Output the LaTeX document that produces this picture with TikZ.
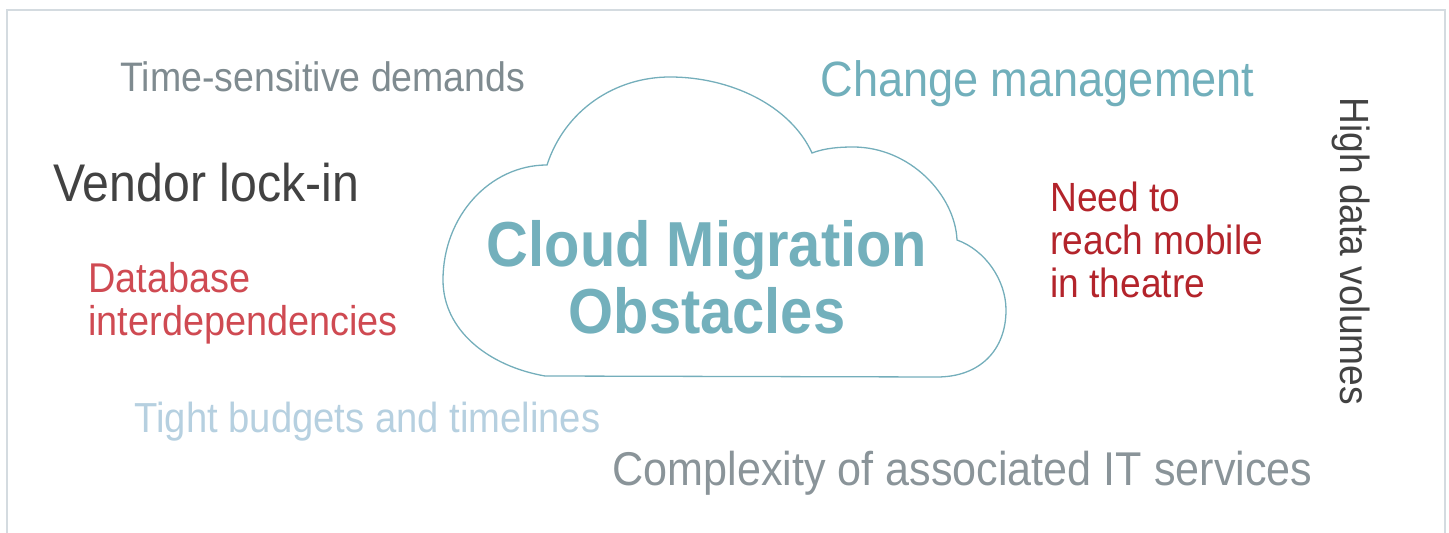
\documentclass[tikz,border=0pt]{standalone}
\usepackage{fontspec}
\setmainfont{Liberation Sans}[FakeStretch=0.91]
\usepackage{tikz}
\definecolor{frame}{HTML}{D4DBE0}
\definecolor{cloudteal}{HTML}{74AEBB}
\definecolor{titleteal}{HTML}{73B0BC}
\definecolor{softteal}{HTML}{71AFBB}
\definecolor{midgray}{HTML}{7F8B90}
\definecolor{stonegray}{HTML}{8A9499}
\definecolor{darkgray}{HTML}{424242}
\definecolor{deepred}{HTML}{B3242B}
\definecolor{rosered}{HTML}{CF4A52}
\definecolor{paleblue}{HTML}{B6D0E0}

\begin{document}
\begin{tikzpicture}[
  x=0.5pt,y=-0.5pt,
  lbl/.style={inner sep=0pt,anchor=base west},
  blk/.style={inner sep=0pt,anchor=north west,align=left},
  cloudline/.style={draw=cloudteal,line width=0.65pt}
]
\useasboundingbox (0,0) rectangle (1449,533);
\draw[draw=frame,line width=0.75pt] (7,533) |- (1445,10) -- (1445,533);
% cloud outline
\draw[cloudline] (545,376) .. controls (488,366) and (443,330) .. (443,280)
  .. controls (443,216) and (490,165) .. (547,165)
  .. controls (565,110) and (615,77) .. (670,77)
  .. controls (730,77) and (790,105) .. (812,153)
  .. controls (825,148) and (840,147) .. (853,147)
  .. controls (910,147) and (955,195) .. (957,240)
  .. controls (985,250) and (1006,280) .. (1006,310)
  .. controls (1006,350) and (980,377) .. (937,377)
  -- cycle;
\node[inner sep=0pt,anchor=north,align=center,text=titleteal,
      font=\fontsize{31.8}{33.5}\selectfont\bfseries] (title) at (707,220)
      {Cloud Migration\\Obstacles};
% obstacles around the cloud
\node[lbl,text=midgray,font=\fontsize{20.6}{24}\selectfont] (time) at (120,92) {Time-sensitive demands};
\node[lbl,text=softteal,font=\fontsize{24.8}{28}\selectfont] (change) at (820,97) {Change management};
\node[lbl,text=darkgray,font=\fontsize{26.5}{30}\selectfont] (vendor) at (53,202) {Vendor lock-in};
\node[blk,text=deepred,font=\fontsize{20.4}{21.5}\selectfont] (mobile) at (1050,182) {Need to\\reach mobile\\in theatre};
\node[blk,text=rosered,font=\fontsize{20.8}{21.5}\selectfont] (database) at (88,262) {Database\\interdependencies};
\node[lbl,text=paleblue,font=\fontsize{21}{24}\selectfont] (budgets) at (134,433) {Tight budgets and timelines};
\node[lbl,text=stonegray,font=\fontsize{23.7}{27}\selectfont] (complexity) at (612,486) {Complexity of associated IT services};
\node[lbl,rotate=-90,text=darkgray,font=\fontsize{20.4}{24}\selectfont] (volumes) at (1340,97) {High data volumes};
\end{tikzpicture}
\end{document}
